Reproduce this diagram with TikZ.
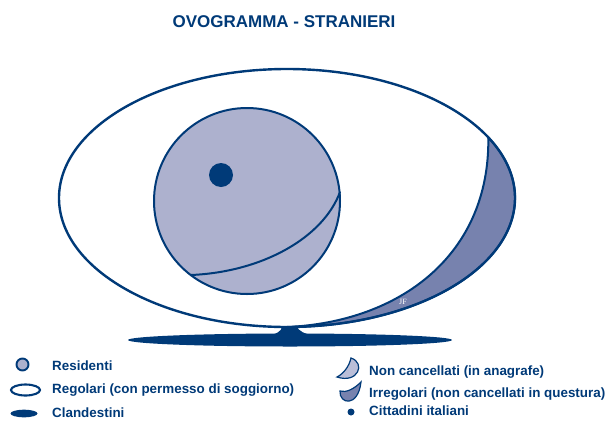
\documentclass[tikz,border=0pt]{standalone}
\usepackage{fontspec}
\setmainfont{Liberation Sans}
\newfontfamily\firmafont{Liberation Serif}
\usetikzlibrary{positioning, shapes.geometric}
\definecolor{navy}{RGB}{0,58,120}
\definecolor{lilla}{RGB}{173,177,206}
\definecolor{lillascuro}{RGB}{119,130,174}
\definecolor{lillachiaro}{RGB}{186,190,216}

\begin{document}
\begin{tikzpicture}[
      x=1pt, y=-1pt,
      every node/.style={inner sep=0pt, text=navy, font=\bfseries\fontsize{13.4}{15}\selectfont},
      contorno/.style={draw=navy, line width=2.4pt},
      bordo/.style={draw=navy, line width=2pt},
      voce/.style={anchor=base west}
    ]
      \useasboundingbox (0,0) rectangle (608,421);
      \fill[white] (0,0) rectangle (608,421);
      % titolo
      \node[font=\bfseries\fontsize{17}{20}\selectfont] (titolo) at (284,22) {OVOGRAMMA - STRANIERI};
      % clandestini
      \fill[navy] (290,340) ellipse[x radius=162, y radius=6.5];
      \fill[navy] (266,336) .. controls (278,334) and (281,331) .. (282,327)
        -- (297,327) .. controls (299,331) and (304,334) .. (316,336) -- cycle;
      % irregolari
      \filldraw[fill=lillascuro, bordo] (287,198) ++(-28:228 and 129) coordinate (corno)
        arc[start angle=-28, end angle=90, x radius=228, y radius=129] coordinate (fondo)
        .. controls (400,322) and (490,255) .. (corno) -- cycle;
      % regolari
      \draw[contorno] (287,198) ellipse[x radius=228, y radius=129];
      % residenti
      \filldraw[fill=lilla, bordo] (247,201) circle[radius=93];
      \draw[bordo] (191,275) .. controls (262,272) and (323,238) .. (340,192);
      \fill[navy] (221,175) circle[radius=12];
      \node[text=white, font=\firmafont\fontsize{8}{8}\selectfont] (firma) at (403,302) {JF};
      % legenda
      \filldraw[fill=lilla, draw=navy, line width=1.9pt] (22.5,364.5) circle[radius=6];
      \draw[navy, line width=2.1pt] (25.5,390) ellipse[x radius=14.5, y radius=5.5];
      \fill[navy] (24,413.5) ellipse[x radius=13.5, y radius=3.8];
      \filldraw[fill=lillachiaro, draw=navy, line width=1.2pt] (351,358)
        .. controls (366,363) and (358,384) .. (337,377)
        .. controls (343,374) and (349,367) .. (351,358) -- cycle;
      \filldraw[fill=lillascuro, draw=navy, line width=1.2pt] (340,391)
        .. controls (339,404) and (358,408) .. (361,382)
        .. controls (354,389) and (346,393) .. (340,391) -- cycle;
      \fill[navy] (351,412) circle[radius=3.5];
      \node[voce] (residenti) at (52,370) {Residenti};
      \node[voce] (regolari) at (52,393.3) {Regolari (con permesso di soggiorno)};
      \node[voce] (clandestini) at (52,417.5) {Clandestini};
      \node[voce] (noncanc) at (369,375) {Non cancellati (in anagrafe)};
      \node[voce] (irregolari) at (369,397.3) {Irregolari (non cancellati in questura)};
      \node[voce] (italiani) at (369,415) {Cittadini italiani};
    \end{tikzpicture}
\end{document}
